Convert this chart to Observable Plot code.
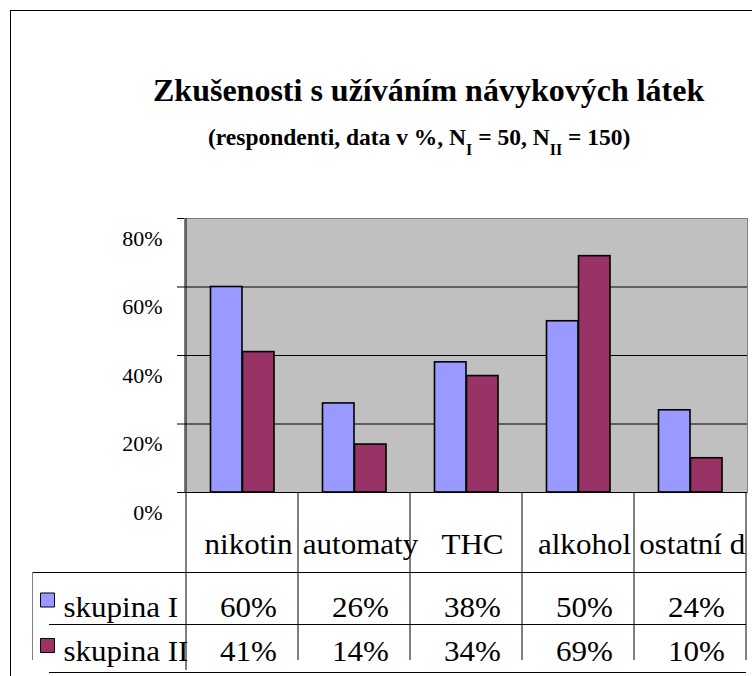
<!DOCTYPE html>
<html>
<head>
<meta charset="utf-8">
<script src="https://cdn.jsdelivr.net/npm/d3@7"></script>
<script src="https://cdn.jsdelivr.net/npm/@observablehq/plot@0.6"></script>
<style>
html,body{margin:0;padding:0;background:#fff;}
#wrap{position:relative;width:752px;height:676px;overflow:hidden;font-family:"Liberation Serif","Tinos","Times New Roman",Times,"DejaVu Serif",serif;color:#000;}
#chart{position:absolute;left:0;top:0;}
#border{position:absolute;left:10px;top:10px;width:900px;height:900px;border-left:1px solid #000;border-top:1px solid #000;pointer-events:none;}
#title{position:absolute;left:153px;top:74px;font-size:32px;line-height:32px;font-weight:bold;white-space:nowrap;}
#subtitle{position:absolute;left:208px;top:126px;font-size:23.5px;line-height:23px;font-weight:bold;white-space:nowrap;}
#subtitle .s{font-size:16px;position:relative;top:10px;}
#chart svg text{font-family:"Liberation Serif","Tinos","Times New Roman",Times,"DejaVu Serif",serif;}
</style>
</head>
<body>
<div id="wrap">
  <div id="chart"></div>
  <div id="border"></div>
  <div id="title">Zkušenosti s užíváním návykových látek</div>
  <div id="subtitle">(respondenti, data v %, N<span class="s">I</span> = 50, N<span class="s">II</span> = 150)</div>
</div>
<script>
// ---- data ----
const categories = ["nikotin", "automaty", "THC", "alkohol", "ostatní drogy"];
const series = ["skupina I", "skupina II"];
const skupinaI = [60, 26, 38, 50, 24];
const skupinaII = [41, 14, 34, 69, 10];
const yTicks = [0, 20, 40, 60, 80];
const colors = ["#9999FF", "#993366"];

const rows = categories.map((c, i) => ({category: c, I: skupinaI[i], II: skupinaII[i]}));
const nCat = categories.length;

const FONT = "'Liberation Serif', Tinos, 'Times New Roman', Times, 'DejaVu Serif', serif";
const TFS = 29; // table font size
const STRETCH = 1.07;
const BAND = (752 - 184 - 5) / nCat;

const plot = Plot.plot({
  width: 752,
  height: 676,
  marginLeft: 184,
  marginRight: 5,
  marginTop: 218,
  marginBottom: 184,
  style: {fontFamily: FONT, fontSize: "22px", background: "transparent", overflow: "visible", color: "#000"},
  x: {type: "band", domain: categories, padding: 0, axis: null},
  y: {domain: [0, 80], axis: null},
  marks: [
    Plot.frame({fill: "#C0C0C0", stroke: "#808080"}),
    Plot.ruleY(yTicks.filter(t => t > 0 && t < 80), {stroke: "#000", strokeWidth: 1}),
    Plot.barY(rows, {x: "category", y: "I", fill: colors[0], stroke: "#000", strokeWidth: 1.6, insetLeft: 24.5, insetRight: 56}),
    Plot.barY(rows, {x: "category", y: "II", fill: colors[1], stroke: "#000", strokeWidth: 1.6, insetLeft: 56.5, insetRight: 24}),
    Plot.ruleY([0], {stroke: "#000", strokeWidth: 1}),
    Plot.axisY(yTicks, {tickSize: 7, tickFormat: () => "", label: null, stroke: "#000", strokeWidth: 1}),
    Plot.axisY(yTicks, {tickSize: 0, tickPadding: 22, dy: 20, tickFormat: d => d + "%", label: null, fontSize: 22, fill: "#000"}),
    // data table: category row (last label overflows its cell, so it is start-aligned and clipped)
    Plot.text(rows.slice(0, nCat - 1), {x: "category", text: "category", frameAnchor: "bottom", dx: 6, dy: 61, fontSize: TFS, fill: "#000"}),
    Plot.text(rows.slice(nCat - 1), {x: "category", text: "category", frameAnchor: "bottom", textAnchor: "start", dx: -BAND / 2 + 5, dy: 61, fontSize: TFS, fill: "#000"}),
    // data table: values
    Plot.text(rows, {x: "category", text: d => d.I + "%", frameAnchor: "bottom", dx: 6, dy: 124.5, fontSize: TFS, fill: "#000"}),
    Plot.text(rows, {x: "category", text: d => d.II + "%", frameAnchor: "bottom", dx: 6, dy: 168.5, fontSize: TFS, fill: "#000"}),
    // legend keys in the table
    Plot.text([series[0]], {text: d => d, frameAnchor: "bottom-left", textAnchor: "start", dx: -121, dy: 124.5, fontSize: TFS, fill: "#000"}),
    Plot.text([series[1]], {text: d => d, frameAnchor: "bottom-left", textAnchor: "start", dx: -121, dy: 168.5, fontSize: TFS, fill: "#000"}),
    Plot.dot([series[0]], {frameAnchor: "bottom-left", dx: -137, dy: 107.5, symbol: "square", r: 7.9, fill: colors[0], stroke: "#000", strokeWidth: 1}),
    Plot.dot([series[1]], {frameAnchor: "bottom-left", dx: -137, dy: 153, symbol: "square", r: 7.9, fill: colors[1], stroke: "#000", strokeWidth: 1})
  ]
});

document.getElementById("chart").appendChild(plot);

// ---- post-render: table grid lines using the plot's own scales ----
const svg = d3.select(plot);
const xs = plot.scale("x"), ys = plot.scale("y");
const bw = xs.bandwidth;
const edges = categories.map(c => xs.apply(c));
edges.push(edges[edges.length - 1] + bw);
const y0 = ys.apply(0), yTop = ys.apply(80);
const right = edges[edges.length - 1];

const g = svg.append("g").attr("fill", "none").attr("stroke", "#000").attr("stroke-width", 1);
g.append("line").attr("x1", edges[0]).attr("x2", edges[0]).attr("y1", yTop).attr("y2", 670);
edges.slice(1).forEach(x => g.append("line").attr("x1", x).attr("x2", x).attr("y1", y0).attr("y2", 660));
g.append("line").attr("x1", 32).attr("x2", right).attr("y1", 572.5).attr("y2", 572.5);
g.append("line").attr("x1", 49).attr("x2", right).attr("y1", 624.5).attr("y2", 624.5);
g.append("line").attr("x1", 49).attr("x2", right).attr("y1", 672.5).attr("y2", 672.5);
g.append("line").attr("x1", 32.5).attr("x2", 32.5).attr("y1", 572).attr("y2", 660).attr("stroke", "#808080");

function stretch(t, k) {
  const tr = t.getAttribute("transform");
  if (tr) t.setAttribute("transform", tr + ` scale(${k},1)`);
  else {
    const x = +t.getAttribute("x") || 0, y = +t.getAttribute("y") || 0;
    t.removeAttribute("x"); t.removeAttribute("y");
    t.setAttribute("transform", `translate(${x},${y}) scale(${k},1)`);
  }
}
const textGroups = svg.selectAll('g[aria-label="text"]').nodes();
textGroups.forEach(gr => d3.select(gr).selectAll("text").each(function() { stretch(this, STRETCH); }));

const defs = svg.append("defs");
defs.append("clipPath").attr("id", "tblclip").append("rect")
  .attr("x", 0).attr("y", 0).attr("width", right).attr("height", 676);
if (textGroups.length > 1) {
  const wrapper = svg.append("g").attr("clip-path", "url(#tblclip)");
  wrapper.node().appendChild(textGroups[1]);
}
</script>
</body>
</html>
